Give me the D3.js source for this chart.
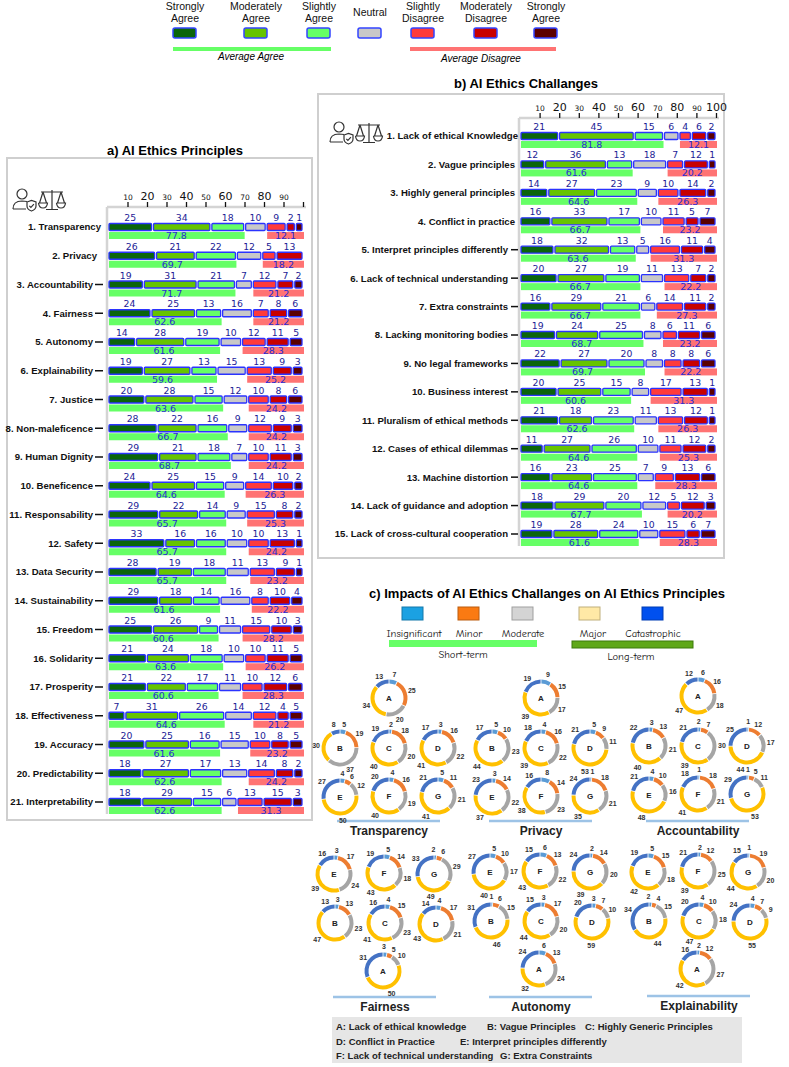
<!DOCTYPE html>
<html>
<head>
<meta charset="utf-8">
<script src="https://cdn.jsdelivr.net/npm/d3@7"></script>
<style>
  body { margin: 0; background: #fff; }
  svg { display: block; }
  text { font-family: "Liberation Sans", Arial, sans-serif; }
  .comic { font-family: "Comic Sans MS", "Comic Neue", "DejaVu Sans", sans-serif; }
  .num { font-family: "DejaVu Sans", Verdana, sans-serif; }
</style>
</head>
<body>
<svg id="chart" width="789" height="1067"></svg>
<script>
// ---- data ----
const levels = ["Strongly|Agree", "Moderately|Agree", "Slightly|Agree", "Neutral",
                "Slightly|Disagree", "Moderately|Disagree", "Strongly|Agree"];
const levelColors = ["#0b650b", "#66c400", "#66ff66", "#c8c8c8", "#ff3a3a", "#c80000", "#5c0000"];

const principles = ["1. Transparency", "2. Privacy", "3. Accountability", "4. Fairness", "5. Autonomy",
  "6. Explainability", "7. Justice", "8. Non-maleficence", "9. Human Dignity", "10. Beneficence",
  "11. Responsability", "12. Safety", "13. Data Security", "14. Sustainability", "15. Freedom",
  "16. Solidarity", "17. Prosperity", "18. Effectiveness", "19. Accuracy", "20. Predictability",
  "21. Interpretability"];
const principleValues = [
  [25, 34, 18, 10, 9, 2, 1], [26, 21, 22, 12, 5, 13, 0], [19, 31, 21, 7, 12, 7, 2],
  [24, 25, 13, 16, 7, 8, 6], [14, 28, 19, 10, 12, 11, 5], [19, 27, 13, 15, 13, 9, 3],
  [20, 28, 15, 12, 10, 8, 6], [28, 22, 16, 9, 12, 9, 3], [29, 21, 18, 7, 10, 11, 3],
  [24, 25, 15, 9, 14, 10, 2], [29, 22, 14, 9, 15, 8, 2], [33, 16, 16, 10, 10, 13, 1],
  [28, 19, 18, 11, 13, 9, 1], [29, 18, 14, 16, 8, 10, 4], [25, 26, 9, 11, 15, 10, 3],
  [21, 24, 18, 10, 10, 11, 5], [21, 22, 17, 11, 10, 12, 6], [7, 31, 26, 14, 12, 4, 5],
  [20, 25, 16, 15, 10, 8, 5], [18, 27, 17, 13, 14, 8, 2], [18, 29, 15, 6, 13, 15, 3]];
const principleAgree = [77.8, 69.7, 71.7, 62.6, 61.6, 59.6, 63.6, 66.7, 68.7, 64.6, 65.7,
  65.7, 65.7, 61.6, 60.6, 63.6, 60.6, 64.6, 61.6, 62.6, 62.6];
const principleDisagree = [12.1, 18.2, 21.2, 21.2, 28.3, 25.2, 24.2, 24.2, 24.2, 26.3, 25.3,
  24.2, 23.2, 22.2, 28.2, 26.2, 28.3, 21.2, 23.2, 24.2, 31.3];

const challenges = ["1. Lack of ethical Knowledge", "2. Vague principles", "3. Highly general principles",
  "4. Conflict in practice", "5.  Interpret principles differently", "6. Lack of technical understanding",
  "7. Extra constraints", "8. Lacking monitoring bodies", "9. No legal frameworks",
  "10. Business interest", "11. Pluralism of ethical methods", "12. Cases of ethical dilemmas",
  "13. Machine distortion", "14. Lack of guidance and adoption", "15. Lack of cross-cultural cooperation"];
const challengeValues = [
  [21, 45, 15, 6, 4, 6, 2], [12, 36, 13, 18, 7, 12, 1], [14, 27, 23, 9, 10, 14, 2],
  [16, 33, 17, 10, 11, 5, 7], [18, 32, 13, 5, 16, 11, 4], [20, 27, 19, 11, 13, 7, 2],
  [16, 29, 21, 6, 14, 11, 2], [19, 24, 25, 8, 6, 11, 6], [22, 27, 20, 8, 8, 8, 6],
  [20, 25, 15, 8, 17, 13, 1], [21, 18, 23, 11, 13, 12, 1], [11, 27, 26, 10, 11, 12, 2],
  [16, 23, 25, 7, 9, 13, 6], [18, 29, 20, 12, 5, 12, 3], [19, 28, 24, 10, 15, 6, 7]];
const challengeAgree = [81.8, 61.6, 64.6, 66.7, 63.6, 66.7, 66.7, 68.7, 69.7, 60.6, 62.6,
  64.6, 64.6, 67.7, 61.6];
const challengeDisagree = [12.1, 20.2, 26.3, 23.2, 31.3, 22.2, 27.3, 23.2, 22.2, 31.3, 26.3,
  25.3, 28.3, 20.2, 28.3];

const axisTicks = [10, 20, 30, 40, 50, 60, 70, 80, 90, 100];

const impactLevels = ["Insignificant", "Minor", "Moderate", "Major", "Catastrophic"];
const impactColors = ["#5b9bd5", "#ed7d31", "#a5a5a5", "#ffc000", "#4472c4"];
const impactLegendColors = ["#1ba1e2", "#fa7a12", "#d4d4d4", "#ffe9a6", "#0050ef"];
const challengeKeys = ["A", "B", "C", "D", "E", "F", "G"];
// values per challenge A..G: [insignificant, minor, moderate, major, catastrophic]
const transparencyImpact = [[7, 25, 20, 34, 13], [5, 19, 37, 30, 8], [2, 18, 20, 40, 19],
  [3, 16, 22, 41, 17], [4, 6, 12, 50, 27], [4, 16, 19, 40, 20], [5, 11, 21, 41, 21]];
const privacyImpact = [[9, 15, 17, 39, 19], [5, 10, 23, 44, 17], [4, 16, 22, 39, 18],
  [5, 9, 11, 53, 21], [3, 14, 22, 37, 23], [8, 14, 23, 38, 16], [1, 18, 21, 35, 24]];
const accountabilityImpact = [[6, 16, 18, 47, 12], [3, 13, 21, 40, 22], [2, 7, 30, 39, 21],
  [1, 12, 17, 44, 25], [4, 10, 16, 48, 21], [1, 18, 21, 41, 18], [1, 5, 11, 53, 29]];
const fairnessImpact = [[3, 5, 10, 50, 31], [3, 13, 23, 47, 13], [4, 15, 23, 41, 16],
  [4, 17, 21, 43, 14], [3, 17, 24, 39, 16], [5, 14, 18, 43, 19], [2, 6, 29, 49, 33]];
const autonomyImpact = [[6, 13, 24, 32, 24], [1, 6, 15, 46, 31], [3, 17, 20, 44, 15],
  [3, 7, 10, 59, 20], [5, 10, 17, 40, 27], [6, 13, 22, 43, 15], [2, 14, 20, 39, 24]];
const explainabilityImpact = [[2, 12, 27, 42, 16], [2, 4, 15, 44, 34], [4, 10, 18, 47, 20],
  [4, 7, 9, 55, 24], [5, 15, 18, 42, 19], [2, 12, 25, 39, 21], [1, 19, 20, 44, 15]];

const challengeNames = [
  ["A: Lack of ethical knowledge", "B: Vague Principles", "C: Highly Generic Principles"],
  ["D: Conflict in Practice", "E: Interpret principles differently"],
  ["F: Lack of technical understanding", "G: Extra Constraints"]];

// ---- drawing ----
const svg = d3.select("#chart");
svg.append("rect").attr("width", 789).attr("height", 1067).attr("fill", "#fff");

// top legend
const legendX = [185, 256, 319, 370, 423, 486, 546];
const legend = svg.append("g").attr("class", "comic");
levels.forEach((lv, i) => {
  const lines = lv.split("|");
  const t = legend.append("text").attr("x", legendX[i]).attr("text-anchor", "middle")
    .attr("font-size", 10.5).attr("fill", "#111");
  lines.forEach((l, j) => t.append("tspan").attr("x", legendX[i])
    .attr("y", lines.length === 1 ? 16 : 10 + j * 12).text(l));
  legend.append("rect").attr("x", legendX[i] - 12).attr("y", 28).attr("width", 23).attr("height", 10)
    .attr("rx", 2).attr("fill", levelColors[i]).attr("stroke", "#3344ff").attr("stroke-width", 1.5);
});
legend.append("rect").attr("x", 173).attr("y", 47).attr("width", 158).attr("height", 4).attr("fill", "#66ff66");
legend.append("rect").attr("x", 410).attr("y", 47).attr("width", 146).attr("height", 4).attr("fill", "#ff7373");
legend.append("text").attr("x", 251).attr("y", 60).attr("text-anchor", "middle").attr("font-size", 10)
  .attr("font-style", "italic").text("Average Agree");
legend.append("text").attr("x", 481).attr("y", 62).attr("text-anchor", "middle").attr("font-size", 10)
  .attr("font-style", "italic").text("Average Disagree");

function drawIcons(g, x, y) {
  const ic = g.append("g").attr("fill", "none").attr("stroke", "#333").attr("stroke-width", 1.2);
  ic.append("circle").attr("cx", x + 10).attr("cy", y + 6).attr("r", 5);
  ic.append("path").attr("d", `M${x + 1},${y + 21} Q${x + 1},${y + 13} ${x + 10},${y + 13} L${x + 15},${y + 13.5} M${x + 1},${y + 21} L${x + 14},${y + 21}`);
  ic.append("path").attr("fill", "#fff")
    .attr("d", `M${x + 15},${y + 14} L${x + 19.5},${y + 12.5} L${x + 24},${y + 14} L${x + 24},${y + 18} Q${x + 24},${y + 21.5} ${x + 19.5},${y + 23} Q${x + 15},${y + 21.5} ${x + 15},${y + 18} Z`);
  ic.append("path").attr("d", `M${x + 17.3},${y + 17.8} l1.6,1.6 l3,-3.2`);
  const s = x + 26;
  ic.append("path").attr("d", `M${s + 14},${y + 2} L${s + 14},${y + 21} M${s + 8},${y + 21.5} L${s + 20},${y + 21.5} M${s + 3},${y + 4} L${s + 25},${y + 4}`);
  [s + 5, s + 23].forEach(px => {
    ic.append("path").attr("d", `M${px},${y + 4} L${px - 3.5},${y + 15} M${px},${y + 4} L${px + 3.5},${y + 15} M${px - 4.5},${y + 15} L${px + 4.5},${y + 15} Q${px + 4},${y + 20} ${px},${y + 20} Q${px - 4},${y + 20} ${px - 4.5},${y + 15}`);
  });
}

// each segment gets a little extra room so small answers stay readable
const segmentPad = 4;

function drawBarPanel(o) {
  const g = svg.append("g");
  g.append("rect").attr("x", o.box[0]).attr("y", o.box[1]).attr("width", o.box[2]).attr("height", o.box[3])
    .attr("fill", "none").attr("stroke", "#cfcfcf").attr("stroke-width", 2);
  g.append("text").attr("x", o.title[0]).attr("y", o.title[1]).attr("text-anchor", "middle")
    .attr("font-size", 13).attr("font-weight", "bold").text(o.title[2]);
  drawIcons(g, o.icon[0], o.icon[1]);

  const xAxis = d3.scaleLinear().domain([0, 100]).range(o.xRange);
  const y = d3.scalePoint().domain(o.labels).range(o.yRange);

  g.append("line").attr("x1", o.xRange[0] - 1).attr("x2", o.xRange[0] - 1)
    .attr("y1", o.axisY).attr("y2", o.yRange[1] + 12).attr("stroke", "#d4d4d4").attr("stroke-width", 2.5);

  const axis = g.append("g").attr("transform", `translate(0,${o.axisY})`)
    .call(d3.axisTop(xAxis).tickValues(axisTicks).tickSize(5).tickPadding(2)
      .tickFormat(d => (d === 100 && !o.show100) ? "" : d));
  axis.select(".domain").attr("stroke", "#d4d4d4").attr("stroke-width", 2.5)
    .attr("d", `M${o.xRange[0] - 1},0H${o.xRange[1] + 3}`);
  axis.selectAll(".tick line").attr("stroke", "#111").attr("stroke-width", 1.3);
  axis.selectAll(".tick text").attr("class", "num").attr("fill", "#111")
    .attr("font-size", d => d % 20 === 0 ? 11 : 7.5);

  o.labels.forEach((lab, i) => {
    const cy = y(lab);
    const hasDash = i >= o.dashFrom;
    g.append("text").attr("x", i === 0 ? o.firstLabelX : (hasDash ? o.dashLabelX : o.labelX))
      .attr("y", cy).attr("dy", "0.35em").attr("text-anchor", "end")
      .attr("font-size", 9.6).attr("font-weight", "bold").attr("fill", "#111").text(lab);
    if (hasDash) {
      g.append("line").attr("x1", o.dashX[0]).attr("x2", o.dashX[1]).attr("y1", cy).attr("y2", cy)
        .attr("stroke", "#111").attr("stroke-width", 1.5);
    }
    const vals = o.values[i];
    const units = vals.map(v => v > 0 ? v + segmentPad : 0);
    const x = d3.scaleLinear().domain([0, d3.sum(units)]).range(o.xRange);
    const edges = [0];
    units.forEach(u => edges.push(edges[edges.length - 1] + u));
    vals.forEach((v, k) => {
      if (v <= 0) return;
      const x0 = x(edges[k]), x1 = x(edges[k + 1]);
      g.append("rect").attr("x", x0 + 1).attr("y", cy - 3.5).attr("width", Math.max(1, x1 - x0 - 2))
        .attr("height", 7).attr("rx", 1).attr("fill", levelColors[k])
        .attr("stroke", "#2b33ff").attr("stroke-width", 1.3);
      g.append("text").attr("class", "num").attr("x", (x0 + x1) / 2).attr("y", cy - 6)
        .attr("text-anchor", "middle").attr("font-size", 9.3).attr("fill", "#1c1c96").text(v);
    });
    const a = o.agree[i], d = o.disagree[i];
    const aEnd = x(edges[3]), dStart = x(edges[4]);
    g.append("rect").attr("x", x(0) + 1).attr("y", cy + 5).attr("width", aEnd - x(0) - 1)
      .attr("height", 7).attr("fill", "#66ff66");
    g.append("text").attr("class", "num").attr("x", (x(0) + aEnd) / 2).attr("y", cy + 12)
      .attr("text-anchor", "middle").attr("font-size", 9.5).attr("fill", "#2a2ad4").text(a.toFixed(1));
    g.append("rect").attr("x", dStart + 1).attr("y", cy + 5).attr("width", o.xRange[1] - dStart)
      .attr("height", 7).attr("fill", "#ff7373");
    g.append("text").attr("class", "num").attr("x", (dStart + o.xRange[1]) / 2 + 1).attr("y", cy + 12)
      .attr("text-anchor", "middle").attr("font-size", 9.5).attr("fill", "#2a2ad4").text(d.toFixed(1));
  });
}

drawBarPanel({
  labels: principles, values: principleValues, agree: principleAgree, disagree: principleDisagree,
  box: [7, 158, 305, 662], title: [175, 155, "a) AI Ethics Principles"], icon: [12, 188],
  xRange: [108, 303], yRange: [227, 802], axisY: 207, show100: false,
  firstLabelX: 101, labelX: 97, dashLabelX: 93, dashFrom: 2, dashX: [95, 103]
});

drawBarPanel({
  labels: challenges, values: challengeValues, agree: challengeAgree, disagree: challengeDisagree,
  box: [318, 94, 406, 464], title: [526, 88, "b) AI Ethics Challanges"], icon: [329, 121],
  xRange: [520, 716], yRange: [136, 534], axisY: 118, show100: true,
  firstLabelX: 518, labelX: 515, dashLabelX: 508, dashFrom: 4, dashX: [511, 518]
});

// ---- panel c ----
const pc = svg.append("g");
pc.append("text").attr("x", 547).attr("y", 598).attr("text-anchor", "middle")
  .attr("font-size", 13).attr("font-weight", "bold").text("c) Impacts of AI Ethics Challanges on AI Ethics Principles");

const swatchX = [402, 458, 512, 579, 642];
const swatchLabelX = [414, 469, 523, 593, 653];
impactLevels.forEach((lv, i) => {
  pc.append("rect").attr("x", swatchX[i]).attr("y", 607).attr("width", 21).attr("height", 13)
    .attr("fill", impactLegendColors[i]).attr("stroke", d3.color(impactLegendColors[i]).darker(0.8))
    .attr("stroke-width", 1);
  pc.append("text").attr("class", "comic").attr("x", swatchLabelX[i]).attr("y", 637)
    .attr("text-anchor", "middle").attr("font-size", 10.5).attr("fill", "#111").text(lv);
});
pc.append("rect").attr("x", 389).attr("y", 640).attr("width", 148).attr("height", 7).attr("fill", "#66ff66");
pc.append("rect").attr("x", 572).attr("y", 641).attr("width", 121).attr("height", 7)
  .attr("fill", "#5fa818").attr("stroke", "#3d7a0a");
pc.append("text").attr("class", "comic").attr("x", 463).attr("y", 658).attr("text-anchor", "middle")
  .attr("font-size", 10.5).attr("fill", "#111").text("Short-term");
pc.append("text").attr("class", "comic").attr("x", 631).attr("y", 660).attr("text-anchor", "middle")
  .attr("font-size", 10.5).attr("fill", "#111").text("Long-term");

const pie = d3.pie().sort(null).padAngle(0.035);
const ring = d3.arc().innerRadius(14.5).outerRadius(18.5);
const labelR = 24;

// push label angles apart so neighbouring small slices stay readable
function spreadAngles(angles, minSep) {
  const a = angles.slice();
  const n = a.length;
  for (let it = 0; it < 40; it++) {
    for (let i = 0; i < n; i++) {
      const j = (i + 1) % n;
      let diff = a[j] - a[i];
      if (j === 0) diff += 2 * Math.PI;
      if (diff < minSep) {
        const shift = (minSep - diff) / 2;
        a[i] -= shift;
        a[j] += shift;
      }
    }
  }
  return a;
}

const topOffsets = { A: [0, -50], B: [-49, 0], C: [0, 0], D: [49, 0], E: [-49, 49], F: [0, 48], G: [49, 48] };
const bottomOffsets = { A: [-2, 48], B: [-50, 0], C: [0, 0], D: [51, 1], E: [-51, -49], F: [-1, -50], G: [49, -49] };

const donutGroups = [
  { name: "Transparency", data: transparencyImpact, cx: 389, cy: 748, off: topOffsets, lineY: 821, textY: 835 },
  { name: "Privacy", data: privacyImpact, cx: 541, cy: 748, off: topOffsets, lineY: 821, textY: 835 },
  { name: "Accountability", data: accountabilityImpact, cx: 698, cy: 746, off: topOffsets, lineY: 821, textY: 835 },
  { name: "Fairness", data: fairnessImpact, cx: 385, cy: 923, off: bottomOffsets, lineY: 997, textY: 1011 },
  { name: "Autonomy", data: autonomyImpact, cx: 541, cy: 921, off: bottomOffsets, lineY: 997, textY: 1011 },
  { name: "Explainability", data: explainabilityImpact, cx: 699, cy: 921, off: bottomOffsets, lineY: 996, textY: 1010 }
];

const donutLabels = [];
donutGroups.forEach(grp => {
  grp.data.forEach((vals, i) => {
    const key = challengeKeys[i];
    const [dx, dy] = grp.off[key];
    const cx = grp.cx + dx, cy = grp.cy + dy;
    const dg = pc.append("g").attr("transform", `translate(${cx},${cy})`);
    const arcs = pie(vals);
    dg.selectAll("path").data(arcs).join("path").attr("d", ring)
      .attr("fill", (d, k) => impactColors[k]);
    const ang = spreadAngles(arcs.map(d => (d.startAngle + d.endAngle) / 2), 0.42);
    arcs.forEach((d, k) => {
      const txt = String(d.data);
      donutLabels.push({
        text: txt, x: cx + labelR * Math.sin(ang[k]), y: cy - labelR * Math.cos(ang[k]),
        w: txt.length * 4.3, h: 7
      });
    });
    dg.append("text").attr("text-anchor", "middle").attr("dy", "0.35em")
      .attr("font-size", 8).attr("font-weight", "bold").attr("fill", "#222").text(key);
  });
  pc.append("line").attr("x1", grp.cx - 52).attr("x2", grp.cx + 51).attr("y1", grp.lineY).attr("y2", grp.lineY)
    .attr("stroke", "#9dc3e6").attr("stroke-width", 2.5);
  pc.append("text").attr("x", grp.cx).attr("y", grp.textY).attr("text-anchor", "middle")
    .attr("font-size", 12).attr("font-weight", "bold").attr("fill", "#222").text(grp.name);
});

// nudge value labels of neighbouring donuts apart where they collide
for (let it = 0; it < 30; it++) {
  for (let i = 0; i < donutLabels.length; i++) {
    for (let j = i + 1; j < donutLabels.length; j++) {
      const p = donutLabels[i], q = donutLabels[j];
      const ox = (p.w + q.w) / 2 + 1 - Math.abs(p.x - q.x);
      const oy = (p.h + q.h) / 2 + 0.5 - Math.abs(p.y - q.y);
      if (ox > 0 && oy > 0) {
        if (ox < oy) {
          const s = (p.x < q.x ? -1 : 1) * ox / 2;
          p.x += s; q.x -= s;
        } else {
          const s = (p.y < q.y ? -1 : 1) * oy / 2;
          p.y += s; q.y -= s;
        }
      }
    }
  }
}
pc.selectAll("text.v").data(donutLabels).join("text").attr("class", "v")
  .attr("x", d => d.x).attr("y", d => d.y).attr("dy", "0.35em").attr("text-anchor", "middle")
  .attr("font-size", 7).attr("font-weight", "bold").attr("fill", "#333").text(d => d.text);

// challenge key box
pc.append("rect").attr("x", 332).attr("y", 1017).attr("width", 410).attr("height", 46).attr("fill", "#e6e6e6");
const keyX = [[336, 487, 585], [336, 460], [336, 500]];
challengeNames.forEach((row, r) => {
  row.forEach((t, c) => {
    pc.append("text").attr("x", keyX[r][c]).attr("y", 1030 + r * 14.5)
      .attr("font-size", 9.5).attr("font-weight", "bold").attr("fill", "#222").text(t);
  });
});
</script>
</body>
</html>
